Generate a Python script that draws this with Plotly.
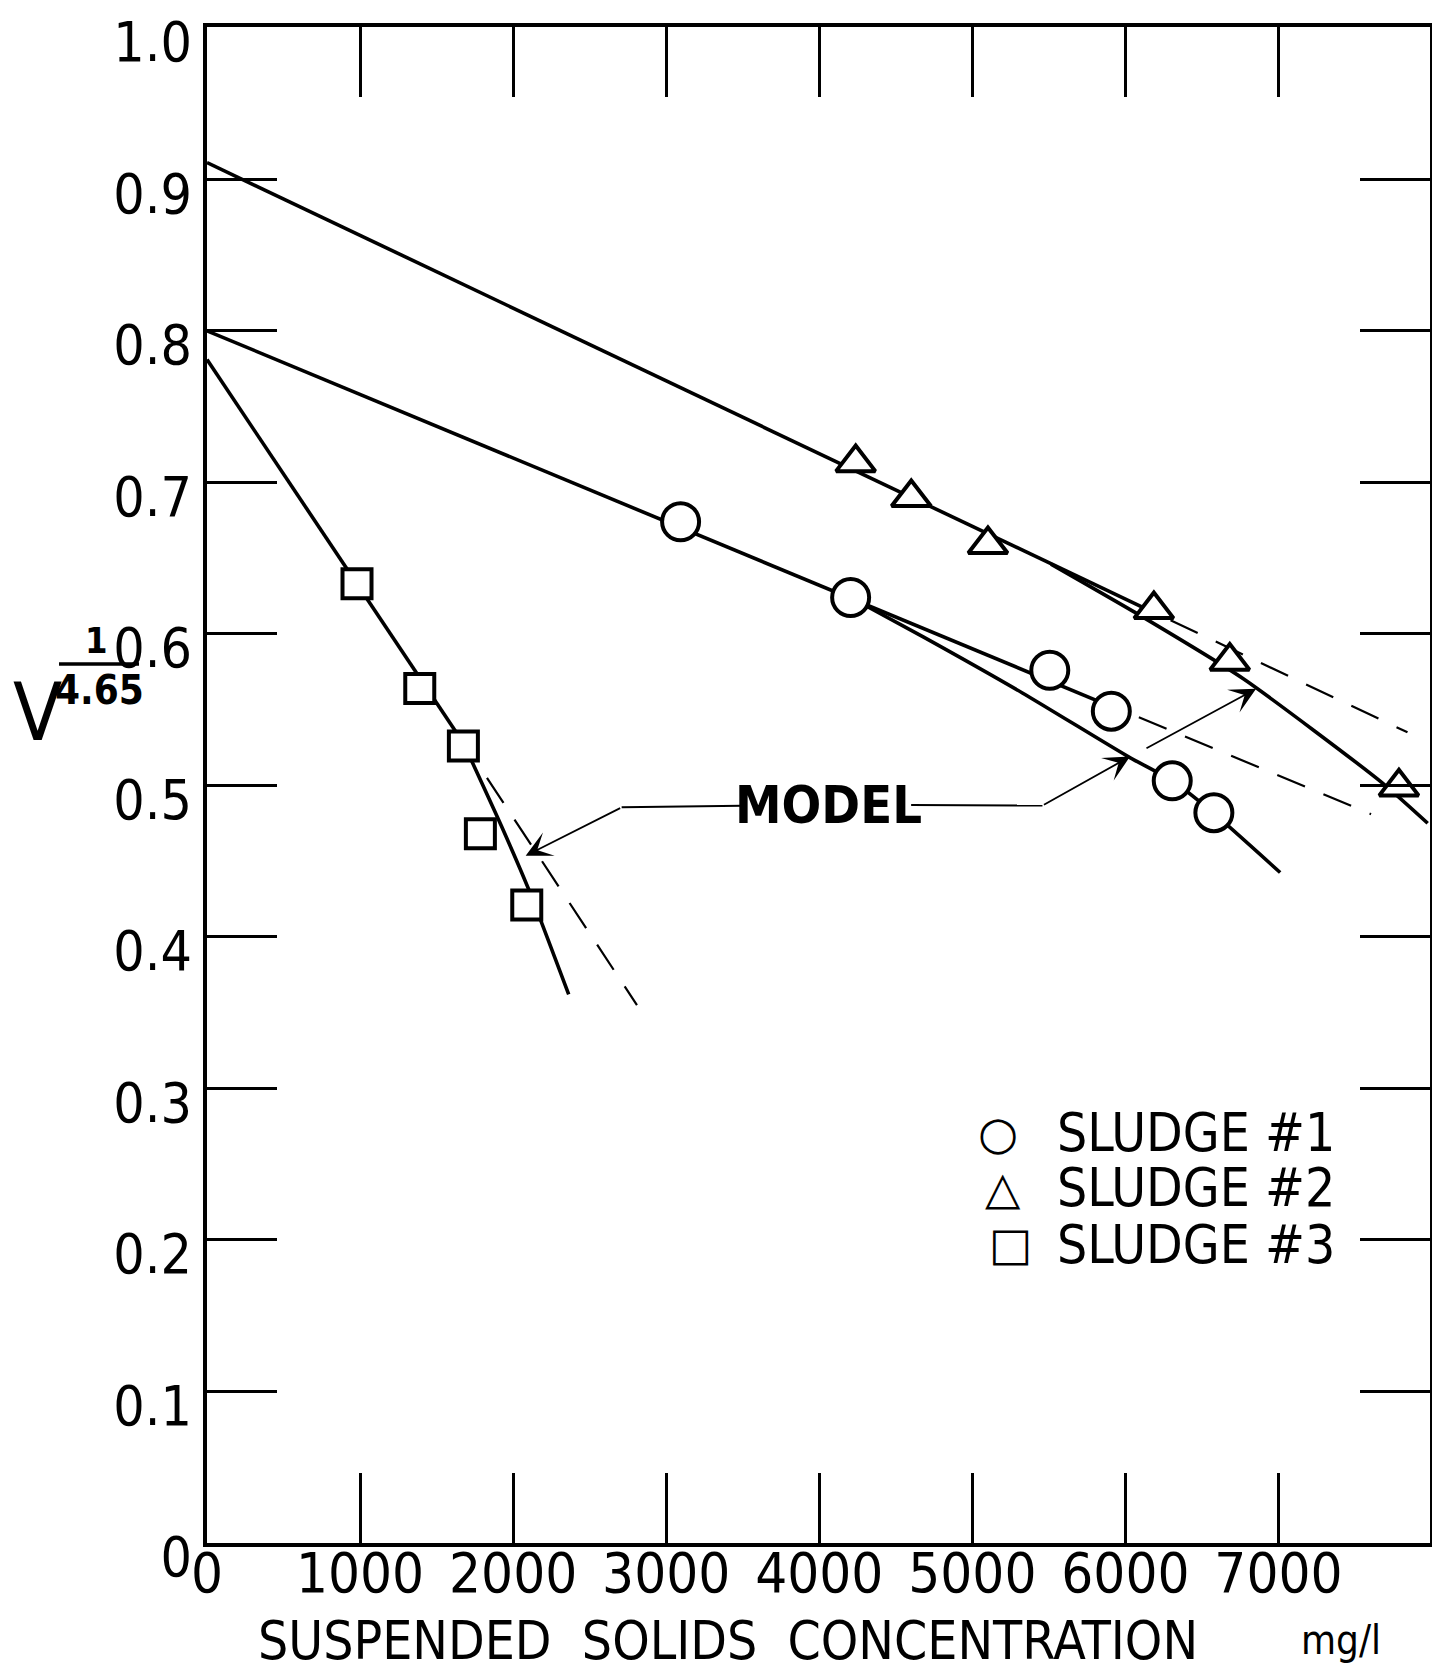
import plotly.graph_objects as go

# ---------------- data ----------------
# Sludge #1 (open circles)
s1_x = [3094, 4205, 5506, 5908, 6306, 6578]
s1_y = [0.674, 0.624, 0.576, 0.549, 0.503, 0.482]
# Sludge #2 (open triangles)
s2_x = [4238, 4601, 5102, 6186, 6682, 7787]
s2_y = [0.713, 0.690, 0.659, 0.616, 0.582, 0.499]
# Sludge #3 (open squares)
s3_x = [980, 1390, 1675, 1786, 2089]
s3_y = [0.633, 0.564, 0.526, 0.468, 0.421]

# straight-line fits: solid part and dashed extension
s1_line_x = [0, 5908]
s1_line_y = [0.800, 0.552]
s1_ext_x = [6088, 7605]
s1_ext_y = [0.545, 0.481]
s2_line_x = [0, 6186]
s2_line_y = [0.911, 0.614]
s2_ext_x = [6295, 7843]
s2_ext_y = [0.609, 0.535]
s3_line_x = [0, 1675]
s3_line_y = [0.781, 0.528]
s3_ext_x = [1829, 2809]
s3_ext_y = [0.505, 0.355]

# model curves
m1_x = [4205, 4679, 5327, 6018, 6306, 6578, 7011]
m1_y = [0.624, 0.598, 0.561, 0.519, 0.503, 0.4815, 0.4425]
m2_x = [5514, 6098, 6768, 7674, 7975]
m2_y = [0.646, 0.612, 0.5705, 0.502, 0.475]
m3_x = [1675, 1922, 2101, 2363]
m3_y = [0.528, 0.4735, 0.4315, 0.362]

# axis ticks
x_ticks = [0, 1000, 2000, 3000, 4000, 5000, 6000, 7000]
x_ticktext = ["0", "1000", "2000", "3000", "4000", "5000", "6000", "7000"]
y_ticks = [0, 0.1, 0.2, 0.3, 0.4, 0.5, 0.6, 0.7, 0.8, 0.9, 1.0]
y_ticktext = ["0", "0.1", "0.2", "0.3", "0.4", "0.5", "0.6", "0.7", "0.8", "0.9", "1.0"]

legend_names = ["SLUDGE #1", "SLUDGE #2", "SLUDGE #3"]
legend_glyphs = ["○", "△", "□"]

# "MODEL" label and its pointer lines (data coordinates)
model_label_xy = (4060, 0.487)
model_left_line = ([3494, 2709], [0.4865, 0.4855])
model_right_line = ([4600, 5458], [0.4871, 0.4867])
arrows = [  # (tail_x, tail_y, tip_x, tip_y)
    (2709, 0.4855, 2082, 0.4535),
    (5458, 0.4867, 6030, 0.519),
    (6128, 0.524, 6854, 0.5637),
]

FONT = "DejaVu Sans Condensed, Liberation Sans Narrow, sans-serif"
BLACK = "black"

fig = go.Figure()

def line(x, y, dash=None, width=3.6, shape="linear"):
    fig.add_trace(go.Scatter(
        x=x, y=y, mode="lines", showlegend=False, hoverinfo="skip",
        line=dict(color=BLACK, width=width, dash=dash, shape=shape,
                  smoothing=0.6 if shape == "spline" else None)))

line(s1_line_x, s1_line_y)
line(s2_line_x, s2_line_y)
line(s3_line_x, s3_line_y)
for ex, ey in [(s1_ext_x, s1_ext_y), (s2_ext_x, s2_ext_y), (s3_ext_x, s3_ext_y)]:
    line(ex, ey, dash="30px,20px", width=2.2)
line(m1_x, m1_y, shape="spline")
line(m2_x, m2_y, shape="spline")
line(m3_x, m3_y, shape="spline")
line(*model_left_line, width=2)
line(*model_right_line, width=2)

for xs, ys, sym, size, name in [
    (s1_x, s1_y, "circle", 37, legend_names[0]),
    (s2_x, s2_y, "triangle-up", 34, legend_names[1]),
    (s3_x, s3_y, "square", 29, legend_names[2]),
]:
    fig.add_trace(go.Scatter(
        x=xs, y=ys, mode="markers", name=name, showlegend=False,
        marker=dict(symbol=sym, size=size, color="white",
                    line=dict(color=BLACK, width=4))))

annotations = []
for tx, ty, hx, hy in arrows:
    annotations.append(dict(
        x=hx, y=hy, ax=tx, ay=ty, xref="x", yref="y", axref="x", ayref="y",
        text="", showarrow=True, arrowhead=3, arrowsize=2.4, arrowwidth=1.8,
        arrowcolor=BLACK, standoff=0, startstandoff=0))

annotations.append(dict(
    x=model_label_xy[0], y=model_label_xy[1], xref="x", yref="y",
    xanchor="center", yanchor="middle",
    text="<b>MODEL</b>", showarrow=False,
    font=dict(family=FONT, size=52, color=BLACK)))

# y-axis label V^(1/4.65)
annotations += [
    dict(x=-0.1390, y=0.5475, xref="paper", yref="paper", text="V",
         xanchor="center", yanchor="middle",
         showarrow=False, font=dict(family=FONT, size=80, color=BLACK)),
    dict(x=-0.0900, y=0.5955, xref="paper", yref="paper", text="<b>1</b>",
         xanchor="center", yanchor="middle",
         showarrow=False, font=dict(family=FONT, size=36, color=BLACK)),
    dict(x=-0.0883, y=0.5625, xref="paper", yref="paper", text="<b>4.65</b>",
         xanchor="center", yanchor="middle",
         showarrow=False, font=dict(family=FONT, size=40, color=BLACK)),
]

# x-axis title
annotations += [
    dict(x=0.040, y=-0.0640, xref="paper", yref="paper", xanchor="left",
         yanchor="middle",
         text="SUSPENDED  SOLIDS  CONCENTRATION", showarrow=False,
         font=dict(family=FONT, size=53, color=BLACK)),
    dict(x=0.893, y=-0.0640, xref="paper", yref="paper", xanchor="left",
         yanchor="middle",
         text="mg/l", showarrow=False,
         font=dict(family=FONT, size=40, color=BLACK)),
]

# legend (symbols + labels)
leg_rows_y = [0.2705, 0.2342, 0.1972]
leg_sym_x = [0.6468, 0.6509, 0.6566]
for gly, name, yy, sx in zip(legend_glyphs, legend_names, leg_rows_y, leg_sym_x):
    annotations.append(dict(x=sx, y=yy, xref="paper", yref="paper", text=gly,
                            xanchor="center", yanchor="middle", showarrow=False,
                            font=dict(family="DejaVu Sans", size=46, color=BLACK)))
    annotations.append(dict(x=0.6934, y=yy, xref="paper", yref="paper",
                            xanchor="left", yanchor="middle", text=name,
                            showarrow=False,
                            font=dict(family=FONT, size=53, color=BLACK)))

shapes = [dict(type="line", xref="paper", yref="paper",
               x0=-0.121, x1=-0.0556, y0=0.5798, y1=0.5798,
               line=dict(color=BLACK, width=3.5))]

axis_common = dict(
    showgrid=False, zeroline=False, showline=True, linecolor=BLACK, linewidth=4,
    mirror="ticks", ticks="inside", ticklen=70, tickwidth=3, tickcolor=BLACK,
    ticklabeloverflow="allow", automargin=False,
)

# the page body has an 8px default margin, so the figure is 8px smaller
fig.update_layout(
    width=1432, height=1667,
    margin=dict(l=199, r=10, t=19, b=132, autoexpand=False),
    paper_bgcolor="white", plot_bgcolor="white",
    xaxis=dict(range=[0, 7990], tickvals=x_ticks, ticktext=x_ticktext,
               ticklabelstandoff=-22,
               tickfont=dict(family=FONT, size=56, color=BLACK), **axis_common),
    yaxis=dict(range=[0, 1.0005], tickvals=y_ticks, ticktext=y_ticktext,
               ticklabelshift=14,
               tickfont=dict(family=FONT, size=55, color=BLACK), **axis_common),
    annotations=annotations, shapes=shapes, showlegend=False,
)

fig.write_html("out.html")
